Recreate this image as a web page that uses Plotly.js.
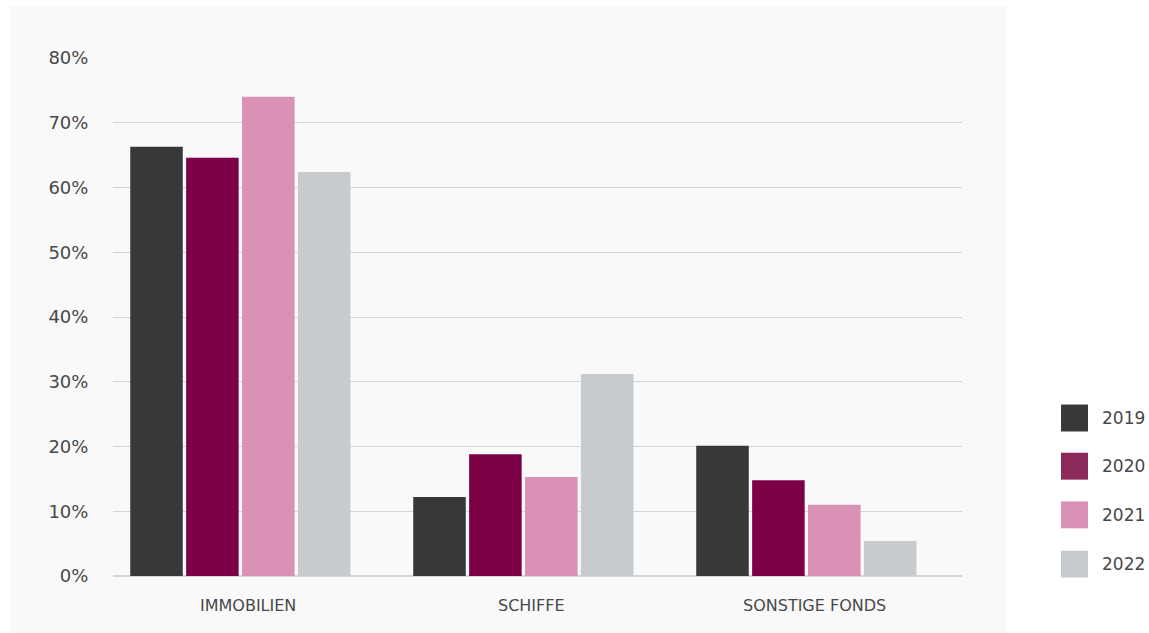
<!DOCTYPE html>
<html>
<head>
<meta charset="utf-8">
<script src="https://cdn.plot.ly/plotly-3.0.1.min.js"></script>
<style>html,body{margin:0;padding:0;background:#fff;}#chart{width:1149px;height:633px;}</style>
</head>
<body>
<div id="chart"></div>
<script>
const categories = ["IMMOBILIEN", "SCHIFFE", "SONSTIGE FONDS"];
const years = ["2019", "2020", "2021", "2022"];
const v2019 = [0.663, 0.122, 0.201];
const v2020 = [0.646, 0.188, 0.148];
const v2021 = [0.740, 0.153, 0.110];
const v2022 = [0.624, 0.312, 0.054];
const barColors = ["#37383a", "#7c0046", "#d992b6", "#c8cbce"];
const legendColors = ["#37383a", "#8c2a5c", "#d992b6", "#c8cbce"];

const series = [v2019, v2020, v2021, v2022];
const FONT = "DejaVu Sans, sans-serif";
const TXT = "#484848";

const traces = series.map((vals, i) => ({
  type: "bar",
  name: years[i],
  x: categories,
  y: vals,
  marker: {color: barColors[i], line: {width: 0}},
  showlegend: false,
  hoverinfo: "x+y+name"
}));

const shapes = [{
  type: "rect", xref: "paper", yref: "paper",
  x0: -0.1213, x1: 1.053, y0: -0.112, y1: 1.1004,
  fillcolor: "#f9f9f9", line: {width: 0}, layer: "below"
}];
const annotations = [];
const legendY = [0.305, 0.212, 0.118, 0.023];
years.forEach((yr, i) => {
  shapes.push({
    type: "rect", xref: "paper", yref: "paper",
    x0: 1.1166, x1: 1.1484, y0: legendY[i] - 0.026, y1: legendY[i] + 0.026,
    fillcolor: legendColors[i], line: {width: 0}
  });
  annotations.push({
    xref: "paper", yref: "paper", x: 1.162, y: legendY[i],
    xanchor: "left", yanchor: "middle", showarrow: false,
    text: yr, font: {family: FONT, size: 17, color: TXT}
  });
});
categories.forEach((c) => {
  annotations.push({
    xref: "x", yref: "paper", x: c, y: 0, yshift: -29, xshift: 8,
    xanchor: "center", yanchor: "middle", showarrow: false,
    text: c, font: {family: FONT, size: 16, color: TXT}
  });
});

const layout = {
  width: 1149, height: 633,
  margin: {l: 113, r: 187, t: 58, b: 57},
  paper_bgcolor: "#ffffff",
  plot_bgcolor: "rgba(0,0,0,0)",
  barmode: "group",
  bargap: 0.21,
  bargroupgap: 0.06,
  font: {family: FONT, size: 15, color: TXT},
  xaxis: {
    type: "category",
    range: [-0.45, 2.55],
    showgrid: false, zeroline: false, showline: false,
    showticklabels: false
  },
  yaxis: {
    range: [0, 0.8],
    tickvals: [0, 0.1, 0.2, 0.3, 0.4, 0.5, 0.6, 0.7, 0.8],
    tickformat: ".0%",
    showgrid: true, gridcolor: "#d4d4d4", gridwidth: 1.3,
    zeroline: true, zerolinecolor: "#d4d4d4", zerolinewidth: 1.5,
    showline: false,
    ticks: "outside", ticklen: 20, tickcolor: "rgba(0,0,0,0)",
    tickfont: {family: FONT, size: 18, color: TXT}
  },
  shapes: shapes,
  annotations: annotations
};

Plotly.newPlot("chart", traces, layout, {displayModeBar: false});
</script>
</body>
</html>
